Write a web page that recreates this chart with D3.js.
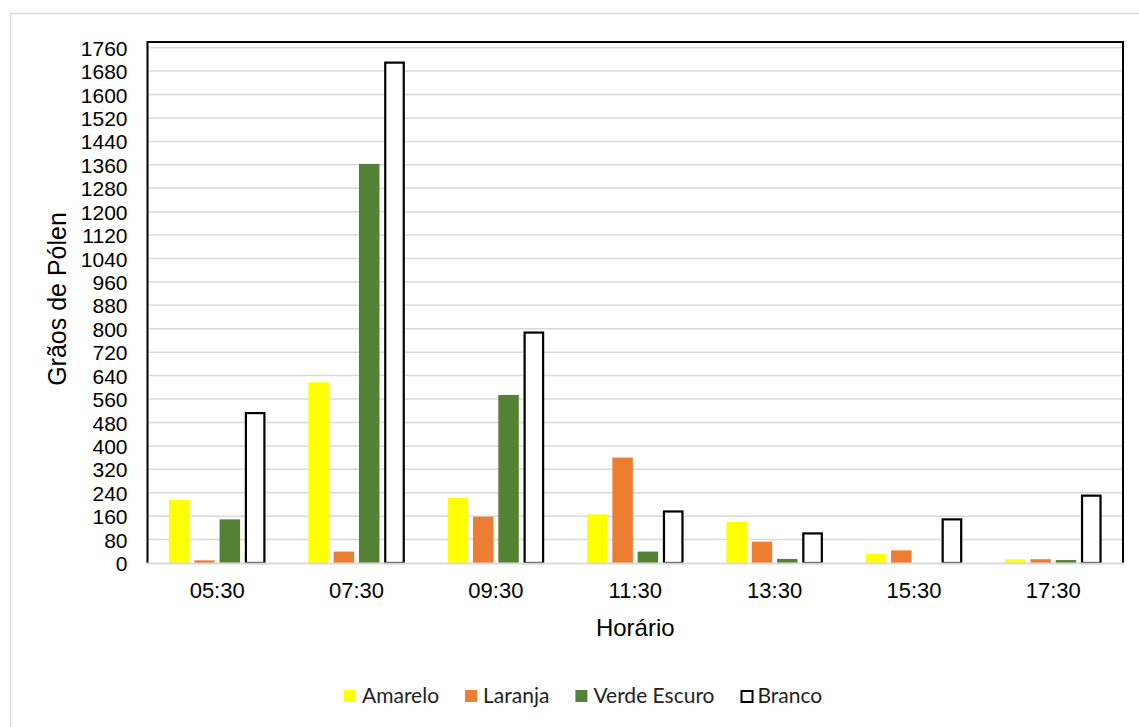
<!DOCTYPE html>
<html>
<head>
<meta charset="utf-8">
<script src="https://cdn.jsdelivr.net/npm/d3@7"></script>
<style>
  html, body { margin: 0; padding: 0; background: #fff; }
  svg { display: block; }
</style>
</head>
<body>
<svg id="chart" width="1139" height="727"></svg>
<script>
const categories = ["05:30", "07:30", "09:30", "11:30", "13:30", "15:30", "17:30"];
const seriesNames = ["Amarelo", "Laranja", "Verde Escuro", "Branco"];
const amarelo     = [215, 617, 223, 166, 141, 31, 13];
const laranja     = [9, 39, 158, 360, 73, 43, 13];
const verdeEscuro = [149, 1363, 574, 39, 14, 0, 10];
const branco      = [512, 1709, 787, 176, 101, 149, 230];
const yTicks = d3.range(0, 1761, 80);
const seriesColors = ["#FFFF00", "#ED7D31", "#548235", "#FFFFFF"];

const seriesValues = [amarelo, laranja, verdeEscuro, branco];
const data = categories.map((c, i) => ({
  cat: c,
  vals: seriesNames.map((s, j) => ({ key: s, idx: j, value: seriesValues[j][i] }))
}));

const svg = d3.select("#chart");
const plot = { left: 147.5, right: 1123, top: 42, bottom: 563, yMaxPx: 47.7 };

// outer chart border (only top/left visible in the picture)
svg.append("rect").attr("x", 10.5).attr("y", 13.5).attr("width", 1200).attr("height", 800)
  .attr("fill", "none").attr("stroke", "#d9d9d9").attr("stroke-width", 1.5);

const x0 = d3.scaleBand().domain(categories).range([plot.left, plot.right]).padding(0);
const x1 = d3.scaleBand().domain(seriesNames).range([0, x0.bandwidth()])
  .paddingInner(0.19).paddingOuter(0.848);
const y = d3.scaleLinear().domain([0, 1760]).range([plot.bottom, plot.yMaxPx]);

// gridlines
svg.append("g").selectAll("line").data(yTicks.filter(t => t > 0)).join("line")
  .attr("x1", plot.left).attr("x2", plot.right)
  .attr("y1", d => y(d)).attr("y2", d => y(d))
  .attr("stroke", "#d9d9d9").attr("stroke-width", 1.5);

// y axis labels
const yAxis = d3.axisLeft(y).tickValues(yTicks).tickFormat(d3.format("d")).tickSize(0).tickPadding(0);
const gy = svg.append("g").attr("transform", `translate(${plot.left - 20},0)`).call(yAxis);
gy.select(".domain").remove();
gy.selectAll("text").attr("font-family", "'Liberation Sans', Arial, sans-serif")
  .attr("font-size", 21).attr("fill", "#000").attr("dy", "0.36em");

// x axis labels
const xAxis = d3.axisBottom(x0).tickSize(0).tickPadding(0);
const gx = svg.append("g").attr("transform", `translate(0,${plot.bottom})`).call(xAxis);
gx.select(".domain").remove();
gx.selectAll("text").attr("font-family", "'Liberation Sans', Arial, sans-serif")
  .attr("font-size", 22).attr("fill", "#000").attr("dy", null).attr("y", 35);

// bars
const groups = svg.append("g").selectAll("g").data(data).join("g")
  .attr("transform", d => `translate(${x0(d.cat)},0)`);
groups.selectAll("rect").data(d => d.vals.filter(v => v.value > 0)).join("rect")
  .attr("x", d => x1(d.key) + (d.idx === 3 ? 1 : 0))
  .attr("width", d => x1.bandwidth() - (d.idx === 3 ? 2 : 0))
  .attr("y", d => y(d.value))
  .attr("height", d => plot.bottom - y(d.value))
  .attr("fill", d => seriesColors[d.idx])
  .attr("stroke", d => d.idx === 3 ? "#000" : "none")
  .attr("stroke-width", d => d.idx === 3 ? 2.2 : 0);

// plot border: left, top, right black; bottom gray axis
svg.append("path")
  .attr("d", `M${plot.left},${plot.bottom} V${plot.top} H${plot.right} V${plot.bottom}`)
  .attr("fill", "none").attr("stroke", "#000").attr("stroke-width", 2);
svg.append("line").attr("x1", plot.left - 1).attr("x2", plot.right + 1)
  .attr("y1", plot.bottom + 0.5).attr("y2", plot.bottom + 0.5)
  .attr("stroke", "#d9d9d9").attr("stroke-width", 2);

// axis titles
svg.append("text").attr("x", (plot.left + plot.right) / 2).attr("y", 636)
  .attr("text-anchor", "middle").attr("font-family", "'Liberation Sans', Arial, sans-serif")
  .attr("font-size", 24).attr("fill", "#000").text("Horário");
svg.append("text").attr("transform", "translate(66,299) rotate(-90)")
  .attr("text-anchor", "middle").attr("font-family", "'Liberation Sans', Arial, sans-serif")
  .attr("font-size", 25).attr("fill", "#000").text("Grãos de Pólen");

// legend
const legend = svg.append("g");
let lx = 344;
const ly = 696;
seriesNames.forEach((name, i) => {
  const g = legend.append("g").attr("transform", `translate(${lx},0)`);
  g.append("rect").attr("x", i === 3 ? 1 : 0).attr("y", ly - 6 + (i === 3 ? 1 : 0))
    .attr("width", i === 3 ? 11 : 12).attr("height", i === 3 ? 11 : 12)
    .attr("fill", seriesColors[i]).attr("stroke", i === 3 ? "#000" : "none")
    .attr("stroke-width", i === 3 ? 2 : 0);
  const t = g.append("text").attr("x", i === 3 ? 17 : 18).attr("y", ly).attr("dy", "0.35em")
    .attr("font-family", "Lato, 'Noto Sans', sans-serif").attr("font-size", 21)
    .attr("fill", "#222").text(name);
  lx += 18 + t.node().getComputedTextLength() + 26;
});
</script>
</body>
</html>
